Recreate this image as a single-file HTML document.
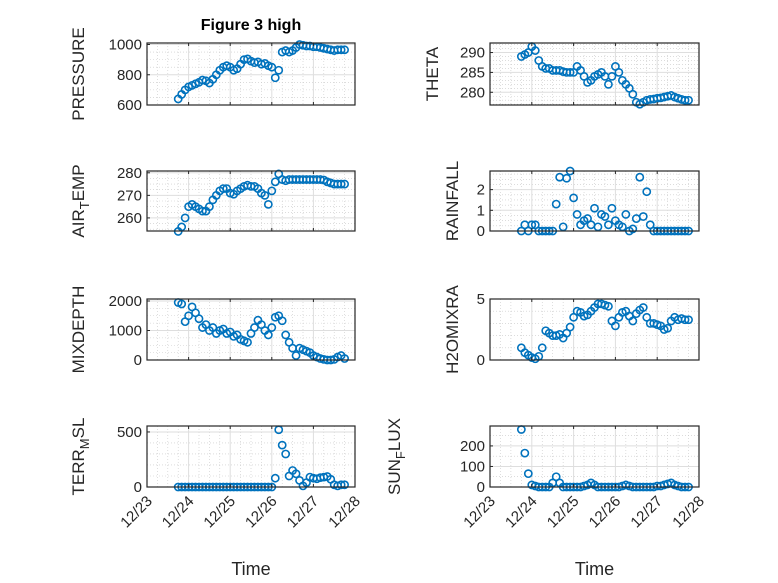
<!DOCTYPE html>
<html><head><meta charset="utf-8"><style>
body{margin:0;background:#fff}
svg{display:block;font-family:"Liberation Sans",sans-serif}
</style></head><body>
<svg id="fig" width="778" height="583" viewBox="0 0 778 583" xmlns="http://www.w3.org/2000/svg">
<rect width="778" height="583" fill="#fff"/>
<text x="251" y="30" text-anchor="middle" font-size="16" font-weight="bold" fill="#000">Figure 3 high</text>
</svg>
<script>
const times = [];
for (let k = 0; k <= 48; k++) times.push(23.75 + k / 12);
const pressure = [640,670,700,720,730,740,750,765,760,745,770,800,830,850,860,850,830,840,870,900,905,890,880,885,870,875,860,850,780,830,950,960,950,960,980,1000,995,990,990,985,985,980,975,970,965,960,965,965,965];
const theta = [289,289.5,290,291.5,290.5,288,286.5,286,286,285.5,285.5,285.5,285.2,285,285,285,286.5,285.5,284,282.5,283,284,284.5,285,284,282,284,286.5,285,283,282,281,279.5,277.5,277,277.5,278,278.2,278.3,278.5,278.6,278.8,279,279.2,278.8,278.5,278.2,278,278];
const airTemp = [254,256,260,265,266,265,264,263,263,265,268,270,272,273,273,271,270.5,272,273,274,274.5,274,274,273,271,270,266,272,276,279.5,277,276.5,277,277,277,277,277,277,277,277,277,277,276.8,276,275.5,275,275,275,275];
const rainfall = [0,0.3,0,0.3,0.3,0,0,0,0,0,1.3,2.6,0.2,2.55,2.9,1.6,0.8,0.3,0.5,0.6,0.3,1.1,0.2,0.8,0.7,0.3,1.1,0.5,0.3,0.2,0.8,0,0.1,0.6,2.6,0.7,1.9,0.3,0,0,0,0,0,0,0,0,0,0,0];
const mixdepth = [1950,1900,1300,1500,1800,1600,1400,1100,1200,1000,1100,900,1000,1050,900,950,800,850,700,650,600,900,1100,1350,1200,1000,850,1100,1450,1500,1330,850,600,400,150,400,350,300,250,150,100,50,20,0,0,20,100,150,50];
const h2omixra = [1.0,0.6,0.4,0.2,0.1,0.3,1.0,2.4,2.2,2.0,2.0,2.1,1.8,2.2,2.7,3.5,4.0,3.9,3.6,3.7,4.0,4.3,4.6,4.6,4.5,4.4,3.2,2.8,3.5,3.9,4.0,3.6,3.2,3.8,4.1,4.3,3.5,3.0,3.0,2.9,2.8,2.5,2.6,3.2,3.5,3.3,3.4,3.3,3.3];
const terrMsl = [0,0,0,0,0,0,0,0,0,0,0,0,0,0,0,0,0,0,0,0,0,0,0,0,0,0,0,0,80,520,380,300,100,150,120,60,10,40,90,80,75,85,90,95,70,20,10,20,20];
const sunFlux = [280,165,65,10,5,0,0,0,0,20,50,20,0,0,0,0,0,0,5,10,20,10,0,0,0,0,0,0,0,5,10,5,0,0,0,0,0,0,0,5,5,10,15,20,10,5,0,0,0];
const xTickLabels = ['12/23','12/24','12/25','12/26','12/27','12/28'];
const xTickDays = [23,24,25,26,27,28];

const NS = 'http://www.w3.org/2000/svg';
const svg = document.getElementById('fig');
function mk(tag, attrs, parent) {
  const e = document.createElementNS(NS, tag);
  for (const k in attrs) e.setAttribute(k, attrs[k]);
  (parent || svg).appendChild(e);
  return e;
}
const panels = [
  {name:'pressure', data:pressure, x0:147, x1:355, y0:43, y1:105, ymin:600, ymax:1010, ticks:[600,800,1000], minor:50, label:['PRESSURE'], lx:84},
  {name:'theta', data:theta, x0:490, x1:699, y0:43, y1:105, ymin:276.8, ymax:292.4, ticks:[280,285,290], minor:1, label:['THETA'], lx:438},
  {name:'air-temp', data:airTemp, x0:147, x1:355, y0:171, y1:231, ymin:254.2, ymax:280.8, ticks:[260,270,280], minor:2.5, label:['AIR','T','EMP'], lx:84},
  {name:'rainfall', data:rainfall, x0:490, x1:699, y0:171, y1:231, ymin:0, ymax:2.9, ticks:[0,1,2], minor:0.25, label:['RAINFALL'], lx:458},
  {name:'mixdepth', data:mixdepth, x0:147, x1:355, y0:299, y1:360, ymin:0, ymax:2068, ticks:[0,1000,2000], minor:250, label:['MIXDEPTH'], lx:84},
  {name:'h2omixra', data:h2omixra, x0:490, x1:699, y0:299, y1:360, ymin:0, ymax:5, ticks:[0,5], minor:1, label:['H2OMIXRA'], lx:458},
  {name:'terr-msl', data:terrMsl, x0:147, x1:355, y0:426, y1:487, ymin:0, ymax:554, ticks:[0,500], minor:100, label:['TERR','M','SL'], lx:84, bottom:true},
  {name:'sun-flux', data:sunFlux, x0:490, x1:699, y0:426, y1:487, ymin:0, ymax:297, ticks:[0,100,200], minor:50, label:['SUN','F','LUX'], lx:400, bottom:true}
];
panels.forEach(p => {
  const g = mk('g', {});
  
  
  const X = d => p.x0 + (d - 23) / 5 * (p.x1 - p.x0);
  const Y = v => p.y1 - (v - p.ymin) / (p.ymax - p.ymin) * (p.y1 - p.y0);
  mk('rect', {x:p.x0, y:p.y0, width:p.x1-p.x0, height:p.y1-p.y0, fill:'#fff'}, g);
  for (let d = 23; d <= 28.001; d += 0.25) {
    if (Math.abs(d - Math.round(d)) < 1e-6) continue;
    mk('line', {x1:X(d), x2:X(d), y1:p.y0, y2:p.y1, stroke:'#c8c8c8', 'stroke-width':0.6, 'stroke-dasharray':'1 2'}, g);
  }
  const start = Math.ceil(p.ymin / p.minor) * p.minor;
  for (let v = start; v <= p.ymax; v += p.minor) {
    if (p.ticks.some(t => Math.abs(t - v) < 1e-6)) continue;
    mk('line', {x1:p.x0, x2:p.x1, y1:Y(v), y2:Y(v), stroke:'#c8c8c8', 'stroke-width':0.6, 'stroke-dasharray':'1 2'}, g);
  }
  xTickDays.forEach(d => mk('line', {x1:X(d), x2:X(d), y1:p.y0, y2:p.y1, stroke:'#dedede', 'stroke-width':1}, g));
  p.ticks.forEach(v => mk('line', {x1:p.x0, x2:p.x1, y1:Y(v), y2:Y(v), stroke:'#dedede', 'stroke-width':1}, g));
  p.data.forEach((v, i) => {
    const c = mk('circle', {cx:X(times[i]), cy:Y(v), r:3.6, fill:'none', stroke:'#0072BD', 'stroke-width':1.6}, g);
    
    
  });
  mk('rect', {x:p.x0, y:p.y0, width:p.x1-p.x0, height:p.y1-p.y0, fill:'none', stroke:'#262626', 'stroke-width':1.2}, g);
  xTickDays.forEach((d, i) => {
    mk('line', {x1:X(d), x2:X(d), y1:p.y1, y2:p.y1-3, stroke:'#262626'}, g);
    mk('line', {x1:X(d), x2:X(d), y1:p.y0, y2:p.y0+3, stroke:'#262626'}, g);
    if (p.bottom) {
      const ax = X(d)+6, ay = p.y1+15;
      const t = mk('text', {x:ax, y:ay, 'text-anchor':'end', 'font-size':15, fill:'#262626', transform:`rotate(-45 ${ax} ${ay})`}, g);
      t.textContent = xTickLabels[i];
      
      
    }
  });
  p.ticks.forEach(v => {
    mk('line', {x1:p.x0, x2:p.x0+3, y1:Y(v), y2:Y(v), stroke:'#262626'}, g);
    const t = mk('text', {x:p.x0-5, y:Y(v)+5, 'text-anchor':'end', 'font-size':15, fill:'#262626'}, g);
    t.textContent = v;
    
    
  });
  const cy = (p.y0 + p.y1) / 2;
  const lab = mk('text', {x:p.lx, y:cy, 'text-anchor':'middle', 'font-size':17, fill:'#262626', transform:`rotate(-90 ${p.lx} ${cy})`}, g);
  
  
  if (p.label.length === 1) lab.textContent = p.label[0];
  else {
    const a = mk('tspan', {}, lab); a.textContent = p.label[0];
    const b = mk('tspan', {dy:5, 'font-size':13}, lab); b.textContent = p.label[1];
    const c = mk('tspan', {dy:-5}, lab); c.textContent = p.label[2];
  }
  if (p.bottom) {
    const xt = mk('text', {x:(p.x0+p.x1)/2, y:575, 'text-anchor':'middle', 'font-size':18, fill:'#262626'}, g);
    xt.textContent = 'Time';
    
    
  }
});
</script>
</body></html>
